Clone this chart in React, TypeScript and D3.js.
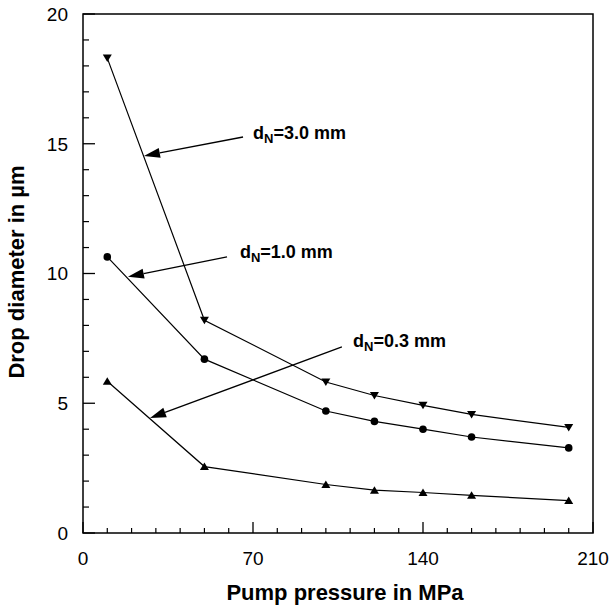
import React from "react";
import * as d3 from "d3";

const pressures = [10, 50, 100, 120, 140, 160, 200];
const dN30 = [18.3, 8.2, 5.82, 5.3, 4.92, 4.57, 4.07];
const dN10 = [10.64, 6.7, 4.7, 4.3, 4.0, 3.7, 3.28];
const dN03 = [5.85, 2.56, 1.87, 1.65, 1.56, 1.45, 1.25];

const xMajorTicks = [0, 70, 140, 210];
const yMajorTicks = [0, 5, 10, 15, 20];

const seriesNames = ["dN=3.0 mm", "dN=1.0 mm", "dN=0.3 mm"];
// annotation: [textX, textY, lineStartX, lineStartY, tipX, tipY] in data units
const annoText = [
  [70, 15.18, 65.9, 15.26, 25.1, 14.53],
  [64.6, 10.6, 59.3, 10.64, 18.5, 9.87],
  [111.2, 7.17, 106.6, 7.17, 27.6, 4.43],
];

const W = 611;
const H = 611;
const M = { left: 83, right: 18, top: 14, bottom: 78 };
const FONT = "'Liberation Sans', Arial, Helvetica, sans-serif";

export default function App() {
  const x = d3.scaleLinear().domain([0, 210]).range([M.left, W - M.right]);
  const y = d3.scaleLinear().domain([0, 20]).range([H - M.bottom, M.top]);
  const line = d3
    .line<number>()
    .x((_, i) => x(pressures[i]))
    .y((d) => y(d));

  const xMinor = d3.range(0, 211, 10).filter((v) => !xMajorTicks.includes(v));
  const yMinor = d3.range(0, 21, 1).filter((v) => !yMajorTicks.includes(v));

  const triDown = (cx: number, cy: number) =>
    `M${cx - 4.5},${cy - 3.5}L${cx + 4.5},${cy - 3.5}L${cx},${cy + 4}Z`;
  const triUp = (cx: number, cy: number) =>
    `M${cx - 4.5},${cy + 3.5}L${cx + 4.5},${cy + 3.5}L${cx},${cy - 4}Z`;

  const arrow = (x1: number, y1: number, x2: number, y2: number) => {
    const ang = Math.atan2(y2 - y1, x2 - x1);
    const len = 16;
    const hw = 5;
    const bx = x2 - len * Math.cos(ang);
    const by = y2 - len * Math.sin(ang);
    const px = -Math.sin(ang) * hw;
    const py = Math.cos(ang) * hw;
    return {
      line: `M${x1},${y1}L${bx},${by}`,
      head: `M${x2},${y2}L${bx + px},${by + py}L${bx - px},${by - py}Z`,
    };
  };

  const bottom = H - M.bottom;
  return (
    <div style={{ position: "absolute", left: 0, top: 0 }}>
      <svg width={W} height={H} style={{ display: "block", background: "#fff" }}>
        <rect x={0} y={0} width={W} height={H} fill="#fff" />
        {/* frame */}
        <rect
          x={M.left}
          y={M.top}
          width={W - M.left - M.right}
          height={bottom - M.top}
          fill="none"
          stroke="#000"
          strokeWidth={1.5}
        />
        {/* y ticks */}
        {yMajorTicks.map((v) => (
          <g key={"ym" + v}>
            <line x1={M.left} x2={M.left + 12} y1={y(v)} y2={y(v)} stroke="#000" strokeWidth={1.3} />
            <text
              x={68}
              y={y(v)}
              dy="0.36em"
              textAnchor="end"
              fontFamily={FONT}
              fontSize={19}
              fill="#000"
            >
              {v}
            </text>
          </g>
        ))}
        {yMinor.map((v) => (
          <line key={"yn" + v} x1={M.left} x2={M.left + 6} y1={y(v)} y2={y(v)} stroke="#000" strokeWidth={1.2} />
        ))}
        {/* x ticks */}
        {xMajorTicks.map((v) => (
          <g key={"xm" + v}>
            <line x1={x(v)} x2={x(v)} y1={bottom} y2={bottom - 11} stroke="#000" strokeWidth={1.3} />
            <text
              x={x(v)}
              y={565}
              textAnchor="middle"
              fontFamily={FONT}
              fontSize={19}
              fill="#000"
            >
              {v}
            </text>
          </g>
        ))}
        {xMinor.map((v) => (
          <line key={"xn" + v} x1={x(v)} x2={x(v)} y1={bottom} y2={bottom - 5} stroke="#000" strokeWidth={1.2} />
        ))}
        {/* axis titles */}
        <text
          x={(M.left + W - M.right) / 2 + 7}
          y={600}
          textAnchor="middle"
          fontFamily={FONT}
          fontSize={22}
          fontWeight="bold"
          fill="#000"
        >
          Pump pressure in MPa
        </text>
        <text
          transform={`translate(24,272) rotate(-90)`}
          textAnchor="middle"
          fontFamily={FONT}
          fontSize={22}
          fontWeight="bold"
          fill="#000"
        >
          Drop diameter in µm
        </text>
        {/* series lines */}
        {[dN30, dN10, dN03].map((s, k) => (
          <path key={"l" + k} d={line(s) || ""} fill="none" stroke="#000" strokeWidth={1.2} />
        ))}
        {/* markers */}
        {dN30.map((v, i) => (
          <path key={"m3" + i} d={triDown(x(pressures[i]), y(v))} fill="#000" />
        ))}
        {dN10.map((v, i) => (
          <circle key={"m1" + i} cx={x(pressures[i])} cy={y(v)} r={3.8} fill="#000" />
        ))}
        {dN03.map((v, i) => (
          <path key={"m0" + i} d={triUp(x(pressures[i]), y(v))} fill="#000" />
        ))}
        {/* annotations */}
        {annoText.map((a, k) => {
          const ar = arrow(x(a[2]), y(a[3]), x(a[4]), y(a[5]));
          return (
            <g key={"a" + k}>
              <path d={ar.line} stroke="#000" strokeWidth={1.3} fill="none" />
              <path d={ar.head} fill="#000" />
              <text x={x(a[0])} y={y(a[1])} fontFamily={FONT} fontSize={18} fontWeight="bold" fill="#000">
                d
                <tspan fontSize={13} dy={4}>N</tspan>
                <tspan dy={-4}>{seriesNames[k].slice(2)}</tspan>
              </text>
            </g>
          );
        })}
      </svg>
    </div>
  );
}
